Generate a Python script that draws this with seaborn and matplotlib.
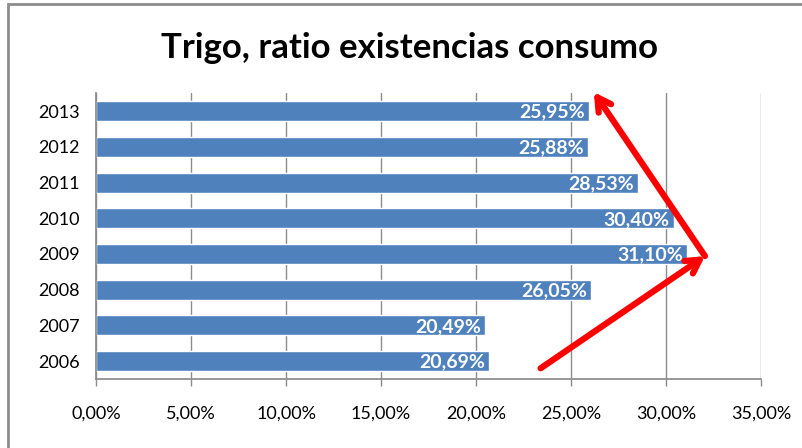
import matplotlib.pyplot as plt
import seaborn as sns
import pandas as pd
from matplotlib.patches import Rectangle

years = ['2013', '2012', '2011', '2010', '2009', '2008', '2007', '2006']
ratio = [25.95, 25.88, 28.53, 30.40, 31.10, 26.05, 20.49, 20.69]
xticks = [0, 5, 10, 15, 20, 25, 30, 35]

df = pd.DataFrame({'year': years, 'ratio': ratio})

sns.set_theme(style='white')
plt.rcParams['font.family'] = ['Lato', 'DejaVu Sans']
plt.rcParams['text.color'] = 'black'
plt.rcParams['xtick.labelcolor'] = 'black'
plt.rcParams['ytick.labelcolor'] = 'black'

fig = plt.figure(figsize=(8.03, 4.48), dpi=100)
ax = fig.add_axes([0.1196, 0.154, 0.8281, 0.638])

sns.barplot(data=df, y='year', x='ratio', order=years, color='#4F81BD',
            saturation=1, width=0.56, orient='h', ax=ax)

for i, v in enumerate(ratio):
    ax.text(v - 0.2, i + 0.03, f'{v:.2f}%'.replace('.', ','), ha='right', va='center',
            color='white', fontsize=14, fontweight='bold')

ax.set_xlim(0, 35)
ax.set_ylim(7.5, -0.5)
ax.set_xticks(xticks)
ax.set_xticklabels([f'{t:.2f}%'.replace('.', ',') for t in xticks], fontsize=13)
ax.tick_params(axis='y', labelsize=13, pad=12, left=True, length=0)
ax.tick_params(axis='x', pad=14, bottom=True, length=5, color='#8C8C8C', width=1)
ax.set_xlabel('')
ax.set_ylabel('')
ax.set_axisbelow(True)
ax.grid(axis='x', color='#8C8C8C', linewidth=1)
for s in ['top', 'right']:
    ax.spines[s].set_visible(False)
for s in ['left', 'bottom']:
    ax.spines[s].set_color('#8C8C8C')

fig.text(0.51, 1 - 48 / 448, 'Trigo, ratio existencias consumo', ha='center',
         va='center', fontsize=25, fontweight='bold', color='black')

# red arrows
arrow = dict(arrowstyle='->,head_length=0.8,head_width=0.45', color='#FF0000',
             lw=4.5, shrinkA=0, shrinkB=0)
ax.annotate('', xy=(32.05, 4.06), xytext=(23.4, 7.2), arrowprops=arrow,
            annotation_clip=False)
ax.annotate('', xy=(26.2, -0.53), xytext=(32.05, 4.06), arrowprops=arrow,
            annotation_clip=False)

# chart frame
fig.patches.append(Rectangle((8 / 803, -0.1), 1.2, 1 - 4 / 448 + 0.1,
                             transform=fig.transFigure, fill=False,
                             edgecolor='#8C8C8C', linewidth=2))

fig.savefig('out.png', dpi=100)
